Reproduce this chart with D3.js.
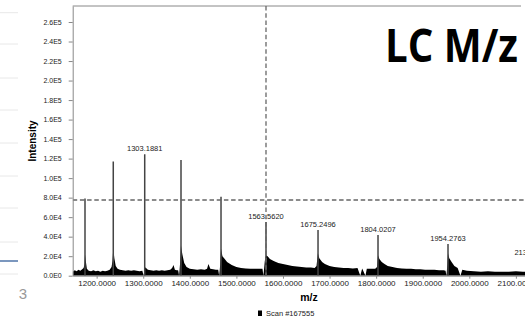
<!DOCTYPE html>
<html>
<head>
<meta charset="utf-8">
<script src="https://cdn.jsdelivr.net/npm/d3@7"></script>
<style>
  body { margin: 0; background: #fff; }
  svg { display: block; font-family: "Liberation Sans", Arial, sans-serif; }
  .axis path, .axis line { stroke: #888; }
  .axis text { fill: #222; }
</style>
</head>
<body>
<div id="chart"></div>
<script>
  // profile of the scan (m/z, intensity in thousands)
  var profileMz = [1148.6, 1153, 1157, 1161, 1165, 1169, 1172, 1174, 1175, 1177, 1179, 1183, 1188, 1193, 1198,
    1203, 1208, 1213, 1218, 1223, 1228, 1232, 1234, 1235.7, 1238, 1241, 1245, 1250, 1256, 1262, 1268, 1274,
    1280, 1286, 1292, 1298, 1301, 1303, 1306, 1310, 1316, 1322, 1328, 1334, 1340, 1346, 1352, 1358, 1362,
    1365, 1368, 1372, 1375, 1377, 1379, 1381, 1384, 1388, 1393, 1400, 1408, 1416, 1424, 1432, 1437, 1440,
    1444, 1450, 1456, 1461, 1463, 1465, 1467, 1470, 1475, 1480, 1490, 1500, 1510, 1520, 1530, 1540, 1550,
    1556, 1558, 1561, 1563.5, 1567, 1572, 1580, 1590, 1600, 1610, 1620, 1630, 1640, 1650, 1660, 1668, 1672,
    1675, 1678, 1684, 1690, 1700, 1710, 1720, 1730, 1740, 1750, 1760, 1766, 1770, 1777, 1780, 1790, 1798,
    1802, 1804, 1807, 1812, 1818, 1825, 1835, 1845, 1855, 1865, 1875, 1885, 1895, 1905, 1915, 1925, 1935,
    1945, 1949, 1951, 1953, 1954.3, 1957, 1962, 1968, 1975, 1981, 1985, 1995, 2010, 2025, 2040, 2055, 2070,
    2085, 2100, 2115, 2125, 2132, 2135, 2140, 2150, 2162.5];
  var profileInt = [4, 5.5, 4.5, 6, 5, 6.5, 8, 12, 22, 14, 7, 5, 4.5, 5.5, 4.5,
    5, 4, 5, 4.5, 5, 6, 9, 15, 28, 18, 10, 7, 6, 5.5, 5, 5.5, 5,
    5.5, 5, 4.5, 5, 0, 9, 8, 6, 5.5, 5, 5.5, 5, 5.5, 5, 5.5, 6, 8,
    11, 6, 5.5, 5.5, 0, 12, 31, 22, 13, 9, 7, 6.5, 6, 6.5, 6, 7, 12,
    7, 6.5, 6, 6, 0, 10, 28, 20, 17, 14, 11, 9, 8, 7.5, 7, 7, 7,
    7, 0, 15, 21, 20, 17, 15, 13, 12, 11, 10, 9.5, 9, 8.5, 8.5, 8, 10,
    23, 18, 14, 12, 10, 9, 8.5, 8, 8, 7.5, 8, 0, 7.5, 0, 7, 7, 7,
    9, 21, 17, 14, 12, 10, 9, 8, 7.5, 7, 7, 6.5, 6.5, 6, 6, 6, 5.5,
    5.5, 5, 0, 12, 23, 18, 14, 10, 8, 0, 6, 5, 4.5, 4, 4.5, 4, 4,
    4, 4.5, 4, 4, 8, 18, 6, 5, 4];

  // centroid sticks (intensity in thousands)
  var peakMz = [1175.0, 1235.7, 1303.1881, 1381.1, 1467.0, 1563.5620, 1675.2496, 1804.0207, 1954.2763, 2134.9];
  var peakInt = [79, 117, 124.5, 118.7, 81, 55, 46.9, 41.7, 32.5, 18];
  var peakLabels = ['', '', '1303.1881', '', '', '1563.5620', '1675.2496', '1804.0207', '1954.2763', '2134.9418'];

  var yTicks = [0, 20000, 40000, 60000, 80000, 100000, 120000, 140000, 160000, 180000, 200000, 220000, 240000, 260000];
  var xTicks = [1200, 1300, 1400, 1500, 1600, 1700, 1800, 1900, 2000, 2100];

  var cursorMz = 1563.5620,
    cursorInt = 77600;

  var width = 525,
    height = 327,
    plot = { left: 72.7, right: 545, top: 6, bottom: 275.7 };

  var svg = d3.select('#chart')
    .append('svg')
    .attr('width', width)
    .attr('height', height);

  svg.append('rect')
    .attr('width', width)
    .attr('height', height)
    .attr('fill', '#fff');

  // leftover bits of the slide on the left edge
  [12.7, 44, 78, 110, 143, 176, 208, 242, 274].forEach(function (y) {
    svg.append('line')
      .attr('x1', 0).attr('x2', 18)
      .attr('y1', y).attr('y2', y)
      .attr('stroke', '#e8e8e8');
  });
  svg.append('line')
    .attr('x1', 0).attr('x2', 18)
    .attr('y1', 261).attr('y2', 261)
    .attr('stroke', '#4f74a8')
    .attr('stroke-width', 1.5);
  svg.append('text')
    .attr('x', 23)
    .attr('y', 299)
    .attr('text-anchor', 'middle')
    .attr('fill', '#999')
    .style('font-size', '15px')
    .text('3');

  var x = d3.scaleLinear()
    .domain([1148.6, 2162.5])
    .range([plot.left, plot.right]);

  var y = d3.scaleLinear()
    .domain([0, 276400])
    .range([plot.bottom, plot.top]);

  svg.append('defs')
    .append('clipPath')
    .attr('id', 'clip')
    .append('rect')
    .attr('x', plot.left)
    .attr('y', plot.top)
    .attr('width', plot.right - plot.left)
    .attr('height', plot.bottom - plot.top);

  // top border
  svg.append('line')
    .attr('x1', plot.left).attr('x2', 521)
    .attr('y1', plot.top).attr('y2', plot.top)
    .attr('stroke', '#888');

  var g = svg.append('g').attr('clip-path', 'url(#clip)');

  var area = d3.area()
    .x(function (d, i) { return x(profileMz[i]); })
    .y0(y(0))
    .y1(function (d) { return y(d * 1000); });

  g.append('path')
    .datum(profileInt)
    .attr('d', area)
    .attr('fill', '#000');

  g.selectAll('.stick')
    .data(peakMz)
    .enter()
    .append('line')
    .classed('stick', true)
    .attr('x1', function (d) { return x(d); })
    .attr('x2', function (d) { return x(d); })
    .attr('y1', y(0))
    .attr('y2', function (d, i) { return y(peakInt[i] * 1000); })
    .attr('stroke', '#444')
    .attr('stroke-width', 1.5);

  g.selectAll('.peak-label')
    .data(peakMz)
    .enter()
    .append('text')
    .classed('peak-label', true)
    .attr('x', function (d) { return x(d); })
    .attr('y', function (d, i) { return y(peakInt[i] * 1000) - 3; })
    .attr('text-anchor', 'middle')
    .attr('fill', '#222')
    .style('font-size', '7.5px')
    .text(function (d, i) { return peakLabels[i]; });

  // cursor cross-hair
  g.append('line')
    .attr('x1', plot.left).attr('x2', plot.right)
    .attr('y1', y(cursorInt)).attr('y2', y(cursorInt))
    .attr('stroke', '#666')
    .attr('stroke-width', 1.3)
    .attr('stroke-dasharray', '4.5,2.7');

  g.append('line')
    .attr('x1', x(cursorMz)).attr('x2', x(cursorMz))
    .attr('y1', plot.top).attr('y2', plot.bottom)
    .attr('stroke', '#666')
    .attr('stroke-width', 1.3)
    .attr('stroke-dasharray', '4.5,2.7');

  function sci(d) {
    if (d === 0) return '0.0E0';
    var e = Math.floor(Math.log10(d));
    return (d / Math.pow(10, e)).toFixed(1) + 'E' + e;
  }

  var yAxis = svg.append('g')
    .classed('axis', true)
    .attr('transform', 'translate(' + plot.left + ',0)')
    .call(d3.axisLeft(y).tickValues(yTicks).tickFormat(sci).tickSize(4).tickSizeOuter(0).tickPadding(7));
  yAxis.selectAll('text').style('font-size', '7px');

  var xAxis = svg.append('g')
    .classed('axis', true)
    .attr('transform', 'translate(0,' + plot.bottom + ')')
    .call(d3.axisBottom(x).tickValues(xTicks).tickFormat(d3.format('.4f')).tickSize(3).tickSizeOuter(0).tickPadding(2));
  xAxis.selectAll('text').style('font-size', '8px');

  svg.append('text')
    .attr('transform', 'translate(36,141) rotate(-90)')
    .attr('text-anchor', 'middle')
    .style('font-size', '10px')
    .style('font-weight', 'bold')
    .text('Intensity');

  svg.append('text')
    .attr('x', 309)
    .attr('y', 301)
    .attr('text-anchor', 'middle')
    .style('font-size', '10.5px')
    .style('font-weight', 'bold')
    .text('m/z');

  // legend
  svg.append('rect')
    .attr('x', 258)
    .attr('y', 310.5)
    .attr('width', 4)
    .attr('height', 5.5)
    .attr('fill', '#000');
  svg.append('text')
    .attr('x', 266)
    .attr('y', 316)
    .attr('fill', '#222')
    .style('font-size', '7.5px')
    .text('Scan #167555');

  svg.append('text')
    .attr('x', 385)
    .attr('y', 62)
    .attr('textLength', 133)
    .attr('lengthAdjust', 'spacingAndGlyphs')
    .style('font-family', '"Open Sans", sans-serif')
    .style('font-weight', 'bold')
    .style('font-size', '46px')
    .text('LC M/z');
</script>
</body>
</html>
